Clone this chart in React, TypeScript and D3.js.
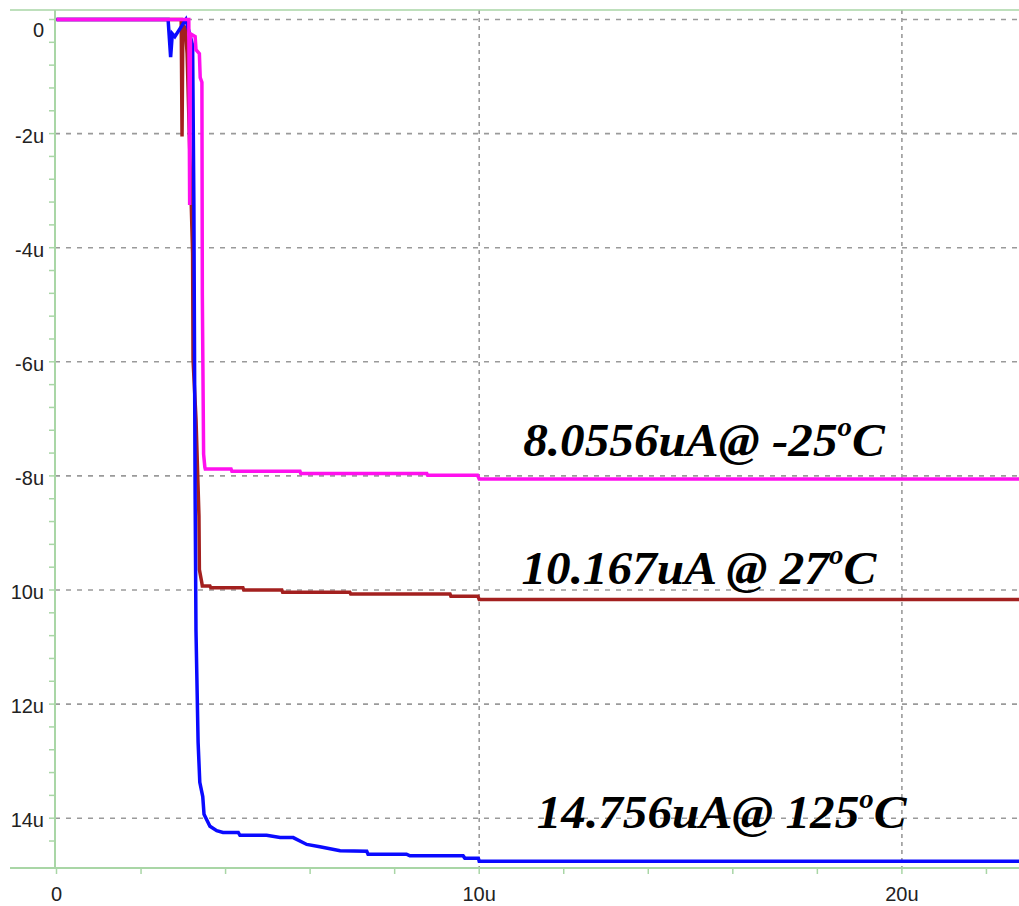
import React from 'react';
import * as d3 from 'd3';

// time in us, current in uA
const pinkT = [0, 3.13, 3.15, 3.17, 3.28, 3.3, 3.38, 3.4, 3.44, 3.45, 3.48, 3.51, 3.52, 4.13, 4.15, 5.76, 5.78, 8.76, 8.78, 9.96, 10.0, 22.8];
const pinkI = [0, 0, -3.25, -0.25, -0.3, -0.53, -0.6, -1.02, -1.1, -4.82, -7.62, -7.85, -7.88, -7.88, -7.92, -7.92, -7.96, -7.96, -7.99, -7.99, -8.0556, -8.0556];

const brownT = [0, 2.95, 2.97, 2.99, 3.05, 3.09, 3.22, 3.23, 3.3, 3.37, 3.38, 3.435, 3.45, 3.63, 3.65, 4.41, 4.43, 5.33, 5.35, 6.94, 6.96, 9.31, 9.33, 9.97, 10.0, 22.8];
const brownI = [0, 0, -2.05, -0.1, -0.15, -0.6, -4.1, -5.96, -7.0, -8.7, -9.64, -9.86, -9.93, -9.93, -9.96, -9.96, -10.0, -10.0, -10.04, -10.04, -10.07, -10.07, -10.11, -10.11, -10.167, -10.167];

const blueT = [0, 2.64, 2.7, 2.74, 2.8, 3.06, 3.22, 3.25, 3.28, 3.3, 3.35, 3.39, 3.46, 3.49, 3.63, 3.79, 3.94, 4.3, 4.34, 4.97, 5.29, 5.6, 5.92, 6.23, 6.71, 7.34, 7.37, 8.28, 8.36, 9.62, 9.66, 9.98, 10.0, 22.8];
const blueI = [0, 0, -0.66, -0.25, -0.3, 0, -0.45, -3.25, -8.41, -10.72, -12.67, -13.37, -13.62, -13.93, -14.14, -14.22, -14.25, -14.25, -14.3, -14.3, -14.34, -14.34, -14.46, -14.5, -14.57, -14.58, -14.63, -14.63, -14.66, -14.66, -14.7, -14.7, -14.756, -14.756];

const yTickValues = [0, -2, -4, -6, -8, -10, -12, -14];
const yTickLabels = ['0', '-2u', '-4u', '-6u', '-8u', '10u', '12u', '14u'];
const xTickValues = [0, 10, 20];
const xTickLabels = ['0', '10u', '20u'];

const labelMain = ['8.0556uA@ -25', '10.167uA @ 27', '14.756uA@ 125'];
const labelCurrent = [-8.0556, -10.167, -14.756];

const W = 1019;
const H = 906;
const axisX = 55;
const topY = 10;
const bottomY = 868;

export default function App() {
  const x = d3.scaleLinear().domain([0, 20]).range([56.5, 901.9]);
  const y = d3.scaleLinear().domain([0, -14]).range([19.5, 818.2]);

  const line = d3
    .line<[number, number]>()
    .x((d) => x(d[0]))
    .y((d) => y(d[1]));

  const series = [
    { t: brownT, i: brownI, color: '#a3201f' },
    { t: blueT, i: blueI, color: '#0a0aff' },
    { t: pinkT, i: pinkI, color: '#ff10ee' },
  ];

  const yMinor = d3.range(0, 37).map((k) => -k * 0.4);
  const xMinor = d3.range(0, 12).map((k) => k * 2);

  const gridColor = '#9a9a9a';
  const axisColor = '#a9d6a6';
  // annotation anchors (time position, offset above the trace)
  const labelX = [x(11.04), x(11.0), x(11.36)];
  const labelDy = [-23, -16, -33];

  return (
    <svg
      width={W}
      height={H}
      style={{ position: 'absolute', left: 0, top: 0, background: '#fff' }}
    >
      <defs>
        <clipPath id="plot">
          <rect x={axisX} y={topY} width={W - axisX} height={bottomY - topY} />
        </clipPath>
      </defs>

      {/* grid */}
      {yTickValues.map((v) => (
        <line
          key={'gy' + v}
          x1={axisX}
          x2={W}
          y1={y(v)}
          y2={y(v)}
          stroke={gridColor}
          strokeWidth={1.6}
          strokeDasharray="5,6"
        />
      ))}
      {xTickValues
        .filter((v) => v > 0)
        .map((v) => (
          <line
            key={'gx' + v}
            x1={x(v)}
            x2={x(v)}
            y1={topY}
            y2={bottomY}
            stroke={gridColor}
            strokeWidth={1.6}
            strokeDasharray="4,4"
          />
        ))}

      {/* frame / axes */}
      <line x1={10} x2={W} y1={topY} y2={topY} stroke={axisColor} strokeWidth={1.5} />
      <line x1={10} x2={W} y1={bottomY} y2={bottomY} stroke={axisColor} strokeWidth={2} />
      <line x1={axisX} x2={axisX} y1={topY} y2={bottomY} stroke={axisColor} strokeWidth={2} />
      {yMinor.map((v) => (
        <line
          key={'ty' + v}
          x1={axisX - 6}
          x2={axisX}
          y1={y(v)}
          y2={y(v)}
          stroke={axisColor}
          strokeWidth={1.5}
        />
      ))}
      {xMinor.map((v) => (
        <line
          key={'tx' + v}
          x1={x(v)}
          x2={x(v)}
          y1={bottomY}
          y2={bottomY + 6}
          stroke={axisColor}
          strokeWidth={1.5}
        />
      ))}

      {/* tick labels */}
      {yTickValues.map((v, k) => (
        <text
          key={'ly' + v}
          x={44}
          y={Math.max(y(v) + 4, 32)}
          textAnchor="end"
          dominantBaseline="middle"
          fontFamily="Liberation Sans, Arial, sans-serif"
          fontSize={20}
          fill="#222"
        >
          {yTickLabels[k]}
        </text>
      ))}
      {xTickValues.map((v, k) => (
        <text
          key={'lx' + v}
          x={x(v)}
          y={901}
          textAnchor="middle"
          fontFamily="Liberation Sans, Arial, sans-serif"
          fontSize={20}
          fill="#222"
        >
          {xTickLabels[k]}
        </text>
      ))}

      {/* traces */}
      <g clipPath="url(#plot)">
        {series.map((s, k) => (
          <path
            key={k}
            d={line(s.t.map((t, j) => [t, s.i[j]] as [number, number])) || ''}
            fill="none"
            stroke={s.color}
            strokeWidth={3.5}
            strokeLinejoin="miter"
          />
        ))}
      </g>

      {/* annotations */}
      {labelMain.map((txt, k) => (
        <text
          key={'ann' + k}
          transform={`translate(${labelX[k]},${y(labelCurrent[k]) + labelDy[k]}) scale(1.07,1)`}
          fontFamily="Liberation Serif, Times New Roman, serif"
          fontWeight="bold"
          fontStyle="italic"
          fontSize={46}
          fill="#000"
        >
          {txt}
          <tspan fontSize={27} dy={-20}>o</tspan>
          <tspan dy={20}>C</tspan>
        </text>
      ))}
    </svg>
  );
}
